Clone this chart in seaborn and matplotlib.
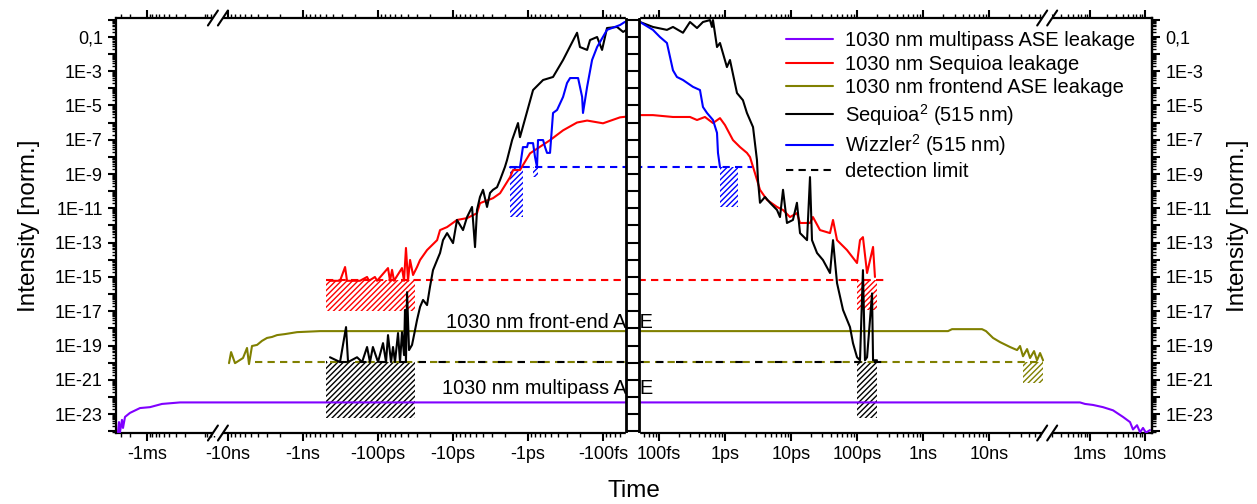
import numpy as np
import matplotlib
matplotlib.use('Agg')
import matplotlib.pyplot as plt
from matplotlib.lines import Line2D
from matplotlib.patches import Rectangle
from matplotlib.ticker import FixedLocator, FixedFormatter, FuncFormatter, LogLocator, NullFormatter
import seaborn as sns

sns.set_theme(style='ticks', rc={'axes.edgecolor': 'black', 'xtick.color': 'black', 'ytick.color': 'black',
                                 'text.color': 'black', 'axes.labelcolor': 'black'})
plt.rcParams['font.family'] = ['Liberation Sans', 'DejaVu Sans']
plt.rcParams['mathtext.fontset'] = 'custom'
plt.rcParams['mathtext.rm'] = 'Liberation Sans'
plt.rcParams['mathtext.it'] = 'Liberation Sans:italic'
plt.rcParams['hatch.linewidth'] = 1.0

# --- data (time in s, intensity normalised) ---
purple_t = [-3.37e-3, -3.23e-3, -3.1e-3, -2.85e-3, -2.73e-3, -2.51e-3, -2.04e-3, -1.34e-3, -0.882e-3, -0.534e-3,
            -0.251e-3, 0.658e-3, 0.811e-3, 1.13e-3, 1.72e-3, 2.62e-3, 3.98e-3, 5.34e-3, 6.05e-3, 7.16e-3,
            8.11e-3, 9.2e-3, 10.4e-3, 12.3e-3]
purple_i = [9e-25, 3.5e-24, 9e-25, 4.7e-24, 1.6e-24, 7e-24, 1.2e-23, 2.3e-23, 2.6e-23, 4e-23,
            4.9e-23, 4.9e-23, 4e-23, 3.5e-23, 2.6e-23, 1.7e-23, 7e-24, 3.5e-24, 1.3e-24, 2.3e-24,
            9e-25, 1.6e-24, 8.5e-25, 1.2e-24]

red_t = [-437e-12, -321e-12, -275e-12, -259e-12, -174e-12, -140e-12, -132e-12, -110e-12, -103e-12, -73.6e-12,
         -69.2e-12, -65e-12, -61.2e-12, -47.9e-12, -45e-12, -42.4e-12, -39.8e-12, -37.4e-12, -34.1e-12, -30.2e-12,
         -27.5e-12, -22.2e-12, -16.3e-12, -14.9e-12, -12.0e-12, -8.85e-12, -6.5e-12, -4.79e-12, -4.37e-12,
         -2.93e-12, -2.36e-12, -1.74e-12, -1.58e-12, -1.28e-12, -0.94e-12, -0.51e-12, -0.341e-12, -0.222e-12,
         -0.163e-12, -0.1e-12, -0.0593e-12,
         0.0515e-12, 0.081e-12, 0.163e-12, 0.295e-12, 0.377e-12, 0.497e-12, 0.658e-12, 0.84e-12, 1.0e-12,
         1.32e-12, 1.69e-12, 2.15e-12, 2.39e-12, 2.85e-12, 3.39e-12, 4.33e-12, 6.14e-12, 7.57e-12, 9.66e-12,
         12.3e-12, 13.7e-12, 19.4e-12, 21.5e-12, 27.5e-12, 39e-12, 43.3e-12, 49.8e-12, 70.5e-12, 100e-12,
         111e-12, 123e-12, 142e-12, 175e-12, 187e-12]
red_i = [6e-16, 6e-16, 3.8e-15, 6e-16, 6e-16, 1e-15, 6e-16, 1e-15, 6e-16, 3.3e-15,
         6e-16, 2.6e-15, 6e-16, 3.3e-15, 6e-16, 4.9e-14, 6e-16, 9.8e-15, 1.3e-15, 3.8e-15,
         9.8e-15, 3.7e-14, 1.4e-13, 5.4e-13, 8.1e-13, 2.1e-12, 2.7e-12, 5.2e-12, 2e-11,
         3.9e-11, 7.6e-11, 6.4e-10, 1.7e-9, 1.7e-9, 1.6e-8, 9.3e-8, 3.5e-7, 1e-6,
         1.3e-6, 9e-7, 2e-6,
         2.7e-6, 2.7e-6, 2.1e-6, 2.1e-6, 1.4e-6, 2.1e-6, 9.3e-7, 1.8e-6, 7.1e-7,
         9.5e-8, 3.7e-8, 1.7e-8, 9.8e-9, 1.1e-9, 1.2e-10, 3.1e-11, 1.2e-11, 8e-12, 3.1e-12,
         5.3e-12, 1.4e-12, 1.4e-12, 3.1e-12, 5.4e-13, 3.6e-13, 2.1e-12, 1.4e-13, 3.7e-14, 6.5e-15,
         1.4e-13, 2.1e-13, 1.7e-15, 5.6e-14, 1e-15]

olive_t = [-9.7e-9, -9.1e-9, -8.07e-9, -6.31e-9, -5.58e-9, -5.25e-9, -4.79e-9, -4.1e-9, -3.52e-9, -3.02e-9,
           -2.59e-9, -2.22e-9, -1.74e-9, -1.2e-9, -0.593e-9, 2.39e-9, 2.75e-9, 7.83e-9, 9.0e-9, 11.5e-9,
           14.7e-9, 20.8e-9, 26.6e-9, 29.5e-9, 32.7e-9, 37.7e-9, 41.8e-9, 48.1e-9, 53.3e-9, 59.3e-9, 65.8e-9]
olive_i = [9.5e-21, 4.2e-20, 9.5e-21, 1.9e-20, 7.3e-20, 8.4e-21, 9.5e-20, 1.1e-19, 1.9e-19, 2.8e-19,
           3.2e-19, 4.1e-19, 4.7e-19, 6.1e-19, 7e-19, 7e-19, 9.1e-19, 9.1e-19, 7e-19, 2.8e-19,
           1.6e-19, 8.3e-20, 5.5e-20, 9.5e-20, 2.4e-20, 6.3e-20, 1.9e-20, 4.8e-20, 1.4e-20, 3.7e-20, 1.4e-20]

black_t = [-437e-12, -321e-12, -267e-12, -251e-12, -190.5e-12, -163e-12, -140e-12, -128e-12, -117e-12, -100e-12,
           -85.8e-12, -78.2e-12, -73.6e-12, -67.1e-12, -63.1e-12, -59.4e-12, -54.1e-12, -50.9e-12, -47.9e-12,
           -45e-12, -43.7e-12, -42.4e-12, -41e-12, -38.6e-12, -35.2e-12, -32.1e-12, -30.2e-12, -27.5e-12,
           -25.1e-12, -22.2e-12, -20.3e-12, -18.5e-12, -16.3e-12, -14.9e-12, -13.6e-12, -12.0e-12, -10e-12,
           -8.85e-12, -7.36e-12, -6.5e-12, -5.58e-12, -5.09e-12, -4.79e-12, -4.37e-12, -3.98e-12, -3.52e-12,
           -3.21e-12, -2.93e-12, -2.59e-12, -2.36e-12, -2.03e-12, -1.905e-12, -1.63e-12, -1.36e-12, -1.28e-12,
           -0.857e-12, -0.63e-12, -0.464e-12, -0.341e-12, -0.222e-12, -0.203e-12, -0.163e-12, -0.149e-12,
           -0.12e-12, -0.103e-12, -0.0885e-12, -0.065e-12, -0.054e-12,
           0.0515e-12, 0.081e-12, 0.132e-12, 0.163e-12, 0.231e-12, 0.295e-12, 0.377e-12, 0.464e-12, 0.593e-12,
           0.635e-12, 0.658e-12, 0.757e-12, 0.84e-12, 1.07e-12, 1.19e-12, 1.52e-12, 1.87e-12, 2.15e-12,
           2.66e-12, 3.05e-12, 3.16e-12, 3.39e-12, 4.04e-12, 4.81e-12, 6.14e-12, 6.81e-12, 7.57e-12, 8.69e-12,
           10.7e-12, 12.3e-12, 13.7e-12, 17.5e-12, 19.4e-12, 20.8e-12, 24.8e-12, 30.5e-12, 39e-12, 43.3e-12,
           49.8e-12, 61.4e-12, 78.3e-12, 86.9e-12, 100e-12, 111e-12, 123e-12, 132e-12, 142e-12, 169e-12,
           175e-12, 201e-12]
black_i = [2.1e-20, 1.1e-20, 1.2e-18, 1.1e-20, 2.1e-20, 1.1e-20, 8.3e-20, 1.1e-20, 8.3e-20, 1.1e-20,
           1.4e-19, 1.1e-20, 4.1e-19, 1.1e-20, 8.3e-20, 1.1e-20, 5.4e-19, 1.1e-20, 6.1e-19,
           2.8e-20, 1.2e-17, 1.1e-20, 1.3e-16, 5.5e-20, 1.1e-19, 8.1e-19, 3.1e-18, 1.8e-17,
           4.6e-17, 2.3e-17, 2.6e-16, 2.5e-15, 9.7e-15, 2.5e-14, 1.4e-13, 3.6e-13, 9.4e-14,
           2.1e-12, 5.4e-13, 3.1e-12, 1.2e-11, 5.5e-14, 8e-12, 4.6e-11, 1.2e-10, 1.2e-11,
           7.9e-11, 1.2e-10, 1.7e-10, 4.5e-10, 2.6e-9, 6.5e-9, 9.5e-8, 9.3e-7, 1.4e-7,
           7.8e-5, 3e-4, 4.5e-4, 4.4e-3, 0.17, 0.025, 0.017, 0.064,
           0.096, 0.017, 0.32, 0.37, 0.19,
           0.72, 0.37, 0.25, 0.37, 0.17, 0.72, 0.32, 0.72, 0.93,
           0.37, 0.93, 0.025, 0.043, 1.7e-3, 4.4e-3, 5.2e-5, 2e-5, 3.6e-6,
           5.4e-7, 6.5e-9, 4.5e-10, 2.1e-11, 4.6e-11, 2.1e-11, 8e-12, 3.1e-12, 1.2e-10, 1.4e-12,
           2.1e-12, 2.1e-11, 3.6e-13, 1.4e-13, 6.6e-10, 1.4e-13, 2.5e-14, 9.7e-15, 1.7e-15, 1.4e-13,
           4.4e-16, 1.2e-17, 1.2e-18, 1.4e-19, 2.1e-20, 1.4e-20, 2.5e-15, 1.4e-20, 2.1e-20, 1.1e-16,
           1.4e-20, 1.4e-20]

blue_t = [-1.74e-12, -1.28e-12, -1.17e-12, -1.03e-12, -1.0e-12, -0.857e-12, -0.807e-12, -0.759e-12, -0.736e-12,
          -0.63e-12, -0.593e-12, -0.558e-12, -0.509e-12, -0.464e-12, -0.41e-12, -0.341e-12, -0.302e-12,
          -0.275e-12, -0.215e-12, -0.19e-12, -0.185e-12, -0.163e-12, -0.14e-12, -0.12e-12, -0.0885e-12,
          -0.0593e-12, -0.0513e-12,
          0.0515e-12, 0.081e-12, 0.1035e-12, 0.132e-12, 0.147e-12, 0.163e-12, 0.187e-12, 0.231e-12, 0.327e-12,
          0.418e-12, 0.464e-12, 0.534e-12, 0.658e-12, 0.757e-12, 0.783e-12, 0.84e-12]
blue_i = [2.5e-9, 2.5e-9, 3.7e-8, 3.7e-8, 6.3e-8, 6.3e-8, 9.8e-9, 2.5e-9, 9.5e-8,
          9.5e-8, 3.7e-8, 1.7e-8, 1.7e-8, 3.6e-6, 5.4e-6, 3.1e-5, 2e-4,
          3.9e-4, 3.9e-4, 3.1e-5, 3.6e-6, 1.2e-4, 4.4e-3, 0.025, 0.25,
          0.48, 0.72,
          0.72, 0.25, 0.096, 0.043, 6.6e-3, 1.1e-3, 4.5e-4, 3e-4, 1.2e-4,
          7.8e-5, 8e-6, 3.6e-6, 1.4e-6, 2.5e-7, 1.7e-8, 2.5e-9]

# detection limits: (start, end, level)
red_limit = (-494e-12, 295e-12, 6.6e-16)
olive_limit = (-4.4e-9, 65.8e-9, 1.1e-20)
black_limit = (-494e-12, 265e-12, 1.1e-20)
blue_limit = (-1.74e-12, 2.56e-12, 2.5e-9)

# hatched regions below detection limit: (start, end, low, high)
red_hatch = [(-494e-12, -32e-12, 1e-17, 6.6e-16), (100e-12, 201e-12, 1.2e-17, 6.6e-16)]
black_hatch = [(-494e-12, -32e-12, 6e-24, 1.1e-20), (100e-12, 201e-12, 6e-24, 1.1e-20)]
blue_hatch = [(-1.74e-12, -1.17e-12, 3e-12, 2.5e-9), (-0.86e-12, -0.736e-12, 6.4e-10, 2.5e-9),
              (0.84e-12, 1.57e-12, 1.2e-11, 2.5e-9)]
olive_hatch = [(32.7e-9, 65.8e-9, 6.8e-22, 1.1e-20)]

x_major = [-1e-3, -1e-8, -1e-9, -1e-10, -1e-11, -1e-12, -1e-13, 1e-13, 1e-12, 1e-11, 1e-10, 1e-9, 1e-8, 1e-3, 1e-2]
x_labels = ['-1ms', '-10ns', '-1ns', '-100ps', '-10ps', '-1ps', '-100fs',
            '100fs', '1ps', '10ps', '100ps', '1ns', '10ns', '1ms', '10ms']

# --- broken time axis as a piecewise log scale ---
T0 = 5e-14
NEG_X = [0.0, 4.2545, 7.893, 13.301]      # -log10|t| for t<0
NEG_U = [-18.0, 216.0, 220.0, 625.6]
POS_L = [-13.301, -7.167, -3.745, 0.0]    # log10 t for t>0
POS_U = [639.1, 1044.0, 1049.0, 1255.0]


def fwd(t):
    t = np.asarray(t, dtype=float)
    a = np.log10(np.maximum(np.abs(t), 1e-30))
    un = np.interp(-a, NEG_X, NEG_U)
    up = np.interp(a, POS_L, POS_U)
    um = 632.35 + t / T0 * 6.75
    return np.where(t <= -T0, un, np.where(t >= T0, up, um))


def inv(u):
    u = np.asarray(u, dtype=float)
    tn = -10.0 ** (-np.interp(u, NEG_U, NEG_X))
    tp = 10.0 ** np.interp(u, POS_U, POS_L)
    tm = (u - 632.35) / 6.75 * T0
    return np.where(u <= 625.6, tn, np.where(u >= 639.1, tp, tm))


segments = [(-1, 5.56e-5, 3.66e-3), (-1, 5e-14, 1.28e-8), (1, 5e-14, 7e-8), (1, 1.8e-4, 1.34e-2)]
x_minor = []
for sgn, lo, hi in segments:
    for e in range(-15, -1):
        for k in range(2, 10):
            v = k * 10.0 ** e
            if lo < v < hi:
                x_minor.append(sgn * v)

fig = plt.figure(figsize=(12.57, 5.04), dpi=100)
ax = fig.add_axes([116 / 1257, 71 / 504, 1036 / 1257, 415 / 504])
ax.set_xscale('function', functions=(fwd, inv))
ax.set_yscale('log')
XLIM = (-3.66e-3, 13.4e-3)
YLIM = (8.1e-25, 1.23)
ax.set_xlim(*XLIM)
ax.set_ylim(*YLIM)

# hatches
for regions, col in [(red_hatch, 'red'), (black_hatch, 'black'), (blue_hatch, 'blue'), (olive_hatch, '#808000')]:
    for t0, t1, lo, hi in regions:
        ax.fill_between([t0, t1], [lo, lo], [hi, hi], facecolor='none', edgecolor=col,
                        hatch='//////', linewidth=0, zorder=1)

# detection limits
dash = (0, (3.5, 2.5))
for (t0, t1, lvl), col, ls in [(red_limit, 'red', dash), (olive_limit, '#808000', dash),
                               (black_limit, 'black', (3, (3.5, 6))), (blue_limit, 'blue', dash)]:
    ax.plot([t0, t1], [lvl, lvl], color=col, ls=ls, lw=1.5, zorder=2)

series = [(purple_t, purple_i, '#8000ff', '1030 nm multipass ASE leakage'),
          (red_t, red_i, 'red', '1030 nm Sequioa leakage'),
          (olive_t, olive_i, '#808000', '1030 nm frontend ASE leakage'),
          (black_t, black_i, 'black', 'Sequioa$^2$ (515 nm)'),
          (blue_t, blue_i, 'blue', 'Wizzler$^2$ (515 nm)')]
for tt, ii, col, lab in series:
    sns.lineplot(x=tt, y=ii, ax=ax, color=col, lw=1.5, sort=False, estimator=None, zorder=3)

ax.text(-0.52e-12, 2.3e-18, '1030 nm front-end ASE', ha='center', va='center', fontsize=14.3)
ax.text(-0.55e-12, 3.3e-22, '1030 nm multipass ASE', ha='center', va='center', fontsize=14.3)

# ladder break in the middle
ax.axvspan(-T0, T0, ymin=-0.012, ymax=1.012, color='white', zorder=5, clip_on=False)
for xv in (-T0, T0):
    ax.axvline(xv, color='black', lw=2, zorder=6)
ax.hlines(10.0 ** np.arange(-24, 1), -T0, T0, colors='black', lw=1.5, zorder=6)

# // break marks
W, H = 1036.0, 415.0
u0, u1 = fwd(XLIM[0]), fwd(XLIM[1])
for tb in (-1e-6, 1e-5):
    xa = float((fwd(tb) - u0) / (u1 - u0))
    for ya in (0.0, 1.0):
        ax.add_patch(Rectangle((xa - 5 / W, ya - 3 / H), 10 / W, 6 / H, transform=ax.transAxes,
                               facecolor='white', edgecolor='none', clip_on=False, zorder=7))
        for o in (-5, 5):
            ax.plot([xa + (o - 5) / W, xa + (o + 5) / W], [ya - 7.5 / H, ya + 7.5 / H],
                    transform=ax.transAxes, color='black', lw=1.5, clip_on=False, zorder=8)

# ticks
ax.xaxis.set_major_locator(FixedLocator(x_major))
ax.xaxis.set_major_formatter(FixedFormatter(x_labels))
ax.xaxis.set_minor_locator(FixedLocator(x_minor))
ax.xaxis.set_minor_formatter(NullFormatter())


def ylab(v, pos):
    e = int(round(np.log10(v)))
    if e % 2 == 0:
        return ''
    return '0,1' if e == -1 else '1E%d' % e


y_major = 10.0 ** np.arange(-24, 1)
ax2 = ax.twinx()
ax2.set_yscale('log')
ax2.set_ylim(*YLIM)
for a in (ax, ax2):
    a.yaxis.set_major_locator(FixedLocator(y_major))
    a.yaxis.set_major_formatter(FuncFormatter(ylab))
    a.yaxis.set_minor_locator(LogLocator(base=10, subs=np.arange(2, 10), numticks=100))
    a.yaxis.set_minor_formatter(NullFormatter())
    a.tick_params(which='major', direction='out', length=6, width=1.5, labelsize=13)
    a.tick_params(which='minor', direction='out', length=3, width=1.0)
    for s in a.spines.values():
        s.set_linewidth(1.6)
ax.tick_params(axis='x', which='both', top=True, labeltop=False)
ax2.spines[['top', 'bottom', 'left']].set_visible(False)

ax.set_xlabel('Time', fontsize=17.5, labelpad=12)
ax.set_ylabel('Intensity [norm.]', fontsize=17.5, labelpad=11)
ax2.set_ylabel('Intensity [norm.]', fontsize=17.5, labelpad=10)

handles = [Line2D([], [], color=c, lw=1.5) for _, _, c, _ in series]
handles.append(Line2D([], [], color='black', lw=1.5, ls=dash))
labels = [lab for _, _, _, lab in series] + ['detection limit']
ax.legend(handles, labels, loc='upper left', bbox_to_anchor=(0.647, 0.9675), frameon=False, fontsize=14.5,
          borderpad=0, borderaxespad=0, handlelength=2.3, handletextpad=0.62, labelspacing=0.22)

fig.savefig('out.png', dpi=100)
